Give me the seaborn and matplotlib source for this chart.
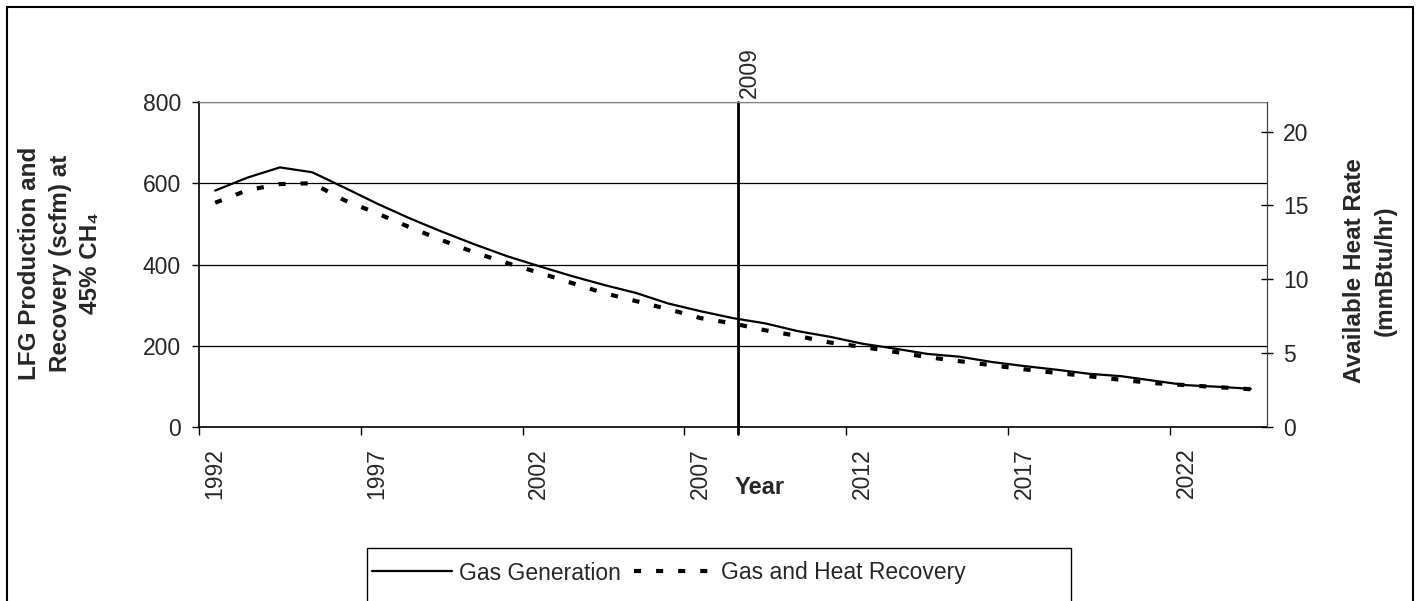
#!/usr/bin/env python3
"""LFG production / recovery projection with heat rate on the second axis."""
import matplotlib
matplotlib.use("Agg")
import matplotlib.pyplot as plt
import seaborn as sns
import pandas as pd
from matplotlib.patches import Rectangle

# values (scfm at 45% CH4)
years = list(range(1992, 2025))
gas_generation = [582, 614, 639, 627, 589, 550, 514, 481, 450, 421, 396,
                  372, 350, 330, 304, 285, 268, 255, 236, 222, 205, 193,
                  180, 173, 160, 150, 141, 131, 125, 114, 103, 99, 94]
gas_heat_recovery = [552, 583, 598, 600, 558, 526, 492, 460, 430, 404, 380,
                     355, 330, 310, 290, 268, 255, 238, 224, 208, 197, 185,
                     172, 162, 152, 142, 133, 125, 116, 108, 103, 98, 93]
tick_years = [1992, 1997, 2002, 2007, 2012, 2017, 2022]
left_ticks = [0, 200, 400, 600, 800]
right_ticks = [0, 5, 10, 15, 20]
series_names = ["Gas Generation", "Gas and Heat Recovery"]
marker_label = "2009"
marker_x = 2008.15  # where the source draws its 2009 marker line

W, H = 1417, 601
FS = 16.5

df = pd.DataFrame({"Year": years,
                   series_names[0]: gas_generation,
                   series_names[1]: gas_heat_recovery})

sns.set_style("white")
plt.rcParams["font.family"] = ["Liberation Sans", "DejaVu Sans"]

fig = plt.figure(figsize=(W / 100, H / 100), dpi=100)
ax = fig.add_axes([199 / W, 1 - 427 / H, 1068 / W, 325 / H])

sns.lineplot(data=df, x="Year", y=series_names[0], ax=ax, color="black",
             linewidth=1.6, label=series_names[0], legend=False)
sns.lineplot(data=df, x="Year", y=series_names[1], ax=ax, color="black",
             linewidth=3.0, linestyle=(0, (1.7, 3.6)), dash_capstyle="butt",
             label=series_names[1], legend=False)

ax.set_xlim(1991.5, 2024.5)
ax.set_ylim(0, 800)
ax.set_xticks(tick_years)
ax.set_xticklabels([str(y) for y in tick_years], rotation=90)
ax.set_xticks([y - 0.5 for y in tick_years], minor=True)
ax.tick_params(axis="x", which="major", length=0, pad=15, labelsize=FS)
ax.tick_params(axis="x", which="minor", length=6, width=1, direction="out",
               color="black", bottom=True)
ax.set_yticks(left_ticks)
ax.tick_params(axis="y", direction="out", length=5, width=1, pad=8,
               labelsize=FS, color="black", left=True)
ax.yaxis.grid(True, color="black", linewidth=0.9)
ax.xaxis.grid(False)
ax.set_xlabel("")
ax.set_ylabel("")
for side in ["left", "bottom"]:
    ax.spines[side].set_color("black")
    ax.spines[side].set_linewidth(1.2)
ax.spines["top"].set_color("#808080")
ax.spines["right"].set_color("#404040")

ax.axvline(marker_x, ymin=-0.02, ymax=1, color="black", linewidth=2,
           clip_on=False)
ax.text(marker_x, 1.012, marker_label, transform=ax.get_xaxis_transform(),
        rotation=90, ha="left", va="bottom", fontsize=FS)

ax2 = ax.twinx()
ax2.set_ylim(0, 22)
ax2.set_yticks(right_ticks)
ax2.tick_params(axis="y", direction="inout", length=9, width=1, pad=7,
                labelsize=FS, color="black", right=True)
ax2.grid(False)
for side in ["left", "top", "bottom"]:
    ax2.spines[side].set_visible(False)
ax2.spines["right"].set_color("#404040")

fig.text(60 / W, 1 - 263 / H,
         "LFG Production and\nRecovery (scfm) at\n45% CH\u2084",
         rotation=90, ha="center", va="center", fontsize=17.5,
         fontweight="bold", linespacing=1.4, multialignment="center")
fig.text(1370 / W, 1 - 271 / H, "Available Heat Rate\n(mmBtu/hr)",
         rotation=90, ha="center", va="center", fontsize=17.5,
         fontweight="bold", linespacing=1.45, multialignment="center")
fig.text(760 / W, 1 - 487 / H, "Year", ha="center", va="center",
         fontsize=17, fontweight="bold")

handles = ax.get_lines()[:2]
fig.legend(handles, series_names, loc="center left",
           bbox_to_anchor=(372 / W, 1 - 573 / H), ncol=2, frameon=False,
           handlelength=3.5, handletextpad=0.3, columnspacing=0.55,
           fontsize=FS, borderaxespad=0, borderpad=0)

fig.add_artist(Rectangle((367 / W, -0.1), (1071 - 367) / W, 0.1 + 1 - 548 / H,
                         transform=fig.transFigure, fill=False,
                         edgecolor="black", linewidth=1))
fig.add_artist(Rectangle((6.5 / W, -0.1), (1413 - 6.5) / W, 0.1 + 1 - 7 / H,
                         transform=fig.transFigure, fill=False,
                         edgecolor="black", linewidth=1.5))

fig.savefig("out.png", dpi=100)
